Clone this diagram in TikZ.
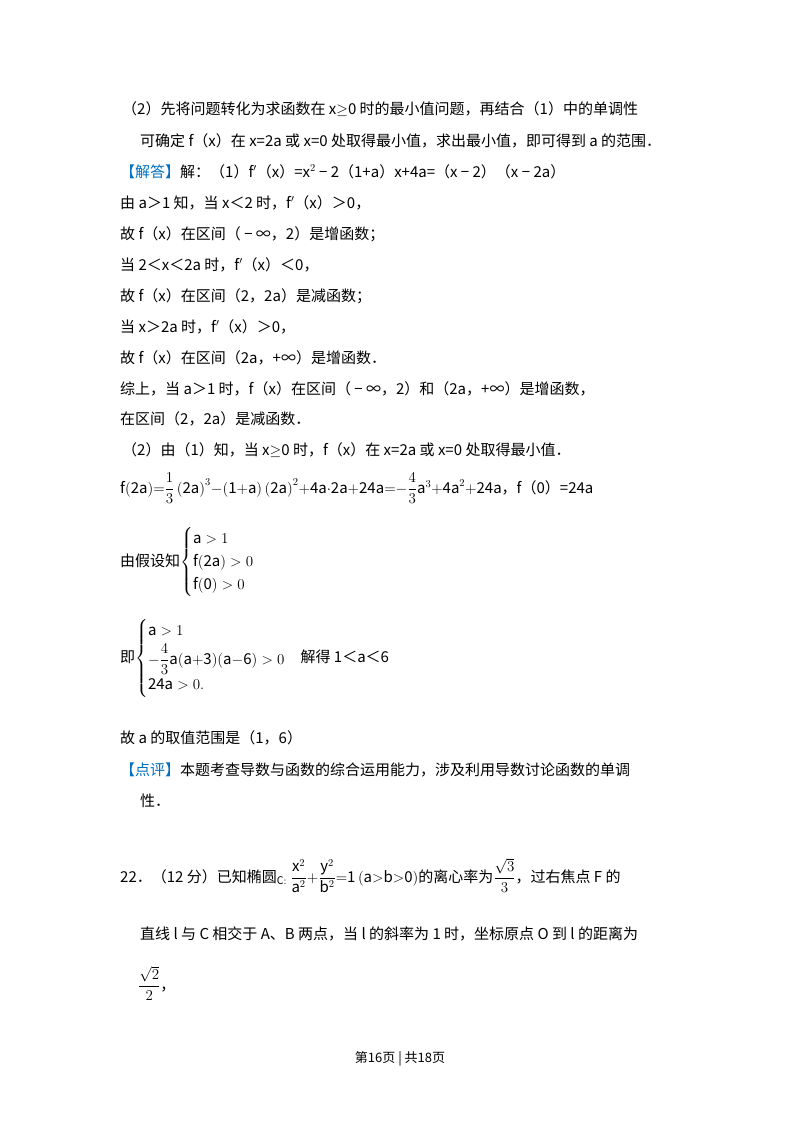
\documentclass[tikz,border=0pt]{standalone}
\usepackage{fix-cm}
\usepackage{amsmath}
\usepackage{fontspec}
\setmainfont{Noto Sans CJK SC}
\definecolor{jd}{RGB}{0,112,192}
\begin{document}
\begin{tikzpicture}[x=1pt,y=-1pt,
  t/.style={anchor=base west,inner sep=0pt,font=\fontsize{15}{18}\selectfont}]
\useasboundingbox[fill=white] (0,0) rectangle (800,1132);
\node[t] (l1) at (122,114) {（2）先将问题转化为求函数在 x$\geq$0 时的最小值问题，再结合（1）中的单调性};
\node[t] (l2) at (140,146) {可确定 f（x）在 x=2a 或 x=0 处取得最小值，求出最小值，即可得到 a 的范围．};
\node[t] (l3) at (120,177) {\textcolor{jd}{【解答】}解：（1）f$'$（x）=x$^{2}$ − 2（1+a）x+4a=（x − 2）（x − 2a）};
\node[t] (l4) at (120,208) {由 a＞1 知，当 x＜2 时，f$'$（x）＞0，};
\node[t] (l5) at (120,239) {故 f（x）在区间（ − ∞，2）是增函数；};
\node[t] (l6) at (120,270) {当 2＜x＜2a 时，f$'$（x）＜0，};
\node[t] (l7) at (120,301) {故 f（x）在区间（2，2a）是减函数；};
\node[t] (l8) at (120,332) {当 x＞2a 时，f$'$（x）＞0，};
\node[t] (l9) at (120,363) {故 f（x）在区间（2a，+∞）是增函数．};
\node[t] (l10) at (120,394) {综上，当 a＞1 时，f（x）在区间（ − ∞，2）和（2a，+∞）是增函数，};
\node[t] (l11) at (120,424) {在区间（2，2a）是减函数．};
\node[t] (l12) at (122,455) {（2）由（1）知，当 x$\geq$0 时，f（x）在 x=2a 或 x=0 处取得最小值．};
\node[t] (l13) at (120,493) {$\mathrm{f(2a)}{=}\dfrac{1}{3}\,\mathrm{(2a)}^{3}{-}\mathrm{(1{+}a)\,(2a)}^{2}{+}\mathrm{4a{\cdot}2a{+}24a}{=}{-}\dfrac{4}{3}\mathrm{a}^{3}{+}\mathrm{4a}^{2}{+}\mathrm{24a}$，f（0）=24a};
\node[t] (l14) at (120,566) {由假设知$\begin{cases}\mathrm{a}>1\\[1pt] \mathrm{f(2a)}>0\\[1pt] \mathrm{f(0)}>0\end{cases}$};
\node[t] (l15) at (120,662) {即$\begin{cases}\mathrm{a}>1\\[2pt] -\dfrac{4}{3}\mathrm{a(a{+}3)(a{-}6)}>0\\[2pt] \mathrm{24a}>0.\end{cases}$解得 1＜a＜6};
\node[t] (l16) at (120,743) {故 a 的取值范围是（1，6）};
\node[t] (l17) at (120,775) {\textcolor{jd}{【点评】}本题考查导数与函数的综合运用能力，涉及利用导数讨论函数的单调};
\node[t] (l18) at (140,806) {性．};
\node[t] (l19) at (120,882) {22．（12 分）已知椭圆$_{\mathrm{C}:}\ \dfrac{\mathrm{x}^2}{\mathrm{a}^2}{+}\dfrac{\mathrm{y}^2}{\mathrm{b}^2}{=}\mathrm{1\,(a{>}b{>}0)}$的离心率为$\dfrac{\sqrt{3}}{3}$，过右焦点 F 的};
\node[t] (l20) at (140,939) {直线 l 与 C 相交于 A、B 两点，当 l 的斜率为 1 时，坐标原点 O 到 l 的距离为};
\node[t] (l21) at (138,990) {$\dfrac{\sqrt{2}}{2}$，};
\node[anchor=base,inner sep=0pt,font=\fontsize{13}{15}\selectfont] (ft) at (400,1062) {第16页 | 共18页};
\end{tikzpicture}
\end{document}
